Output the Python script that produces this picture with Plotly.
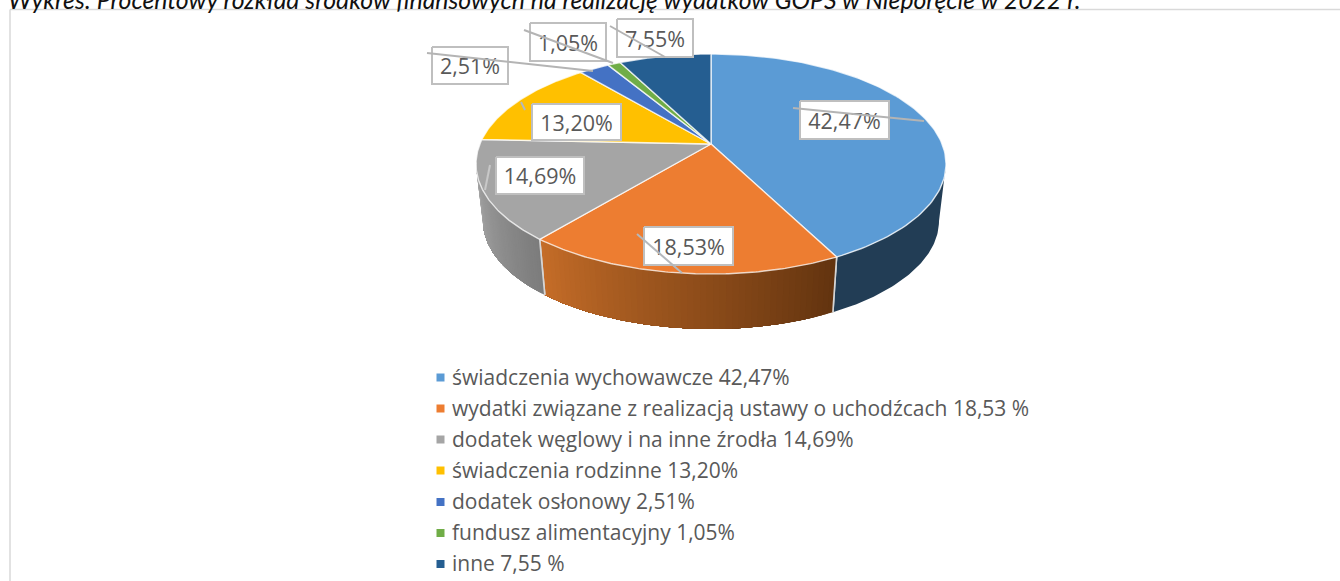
import numpy as np
import plotly.graph_objects as go

# ---- data ----
categories = ["świadczenia wychowawcze 42,47%",
              "wydatki związane z realizacją ustawy o uchodźcach 18,53 %",
              "dodatek węglowy i na inne źrodła 14,69%",
              "świadczenia rodzinne 13,20%",
              "dodatek osłonowy 2,51%",
              "fundusz alimentacyjny 1,05%",
              "inne 7,55 %"]
values = [42.47, 18.53, 14.69, 13.20, 2.51, 1.05, 7.55]
value_labels = ["42,47%", "18,53%", "14,69%", "13,20%", "2,51%", "1,05%", "7,55%"]
colors = ["#5B9BD5", "#ED7D31", "#A5A5A5", "#FFC000", "#4472C4", "#70AD47", "#255E91"]
title_text = "Wykres: Procentowy rozkład środków finansowych na realizację wydatków GOPS w Nieporęcie w 2022 r."

# ---- layout constants (pixels) ----
W, H = 1340, 581
CX, CY, RX, RY = 711.0, 164.0, 235.0, 110.0      # top ellipse
BCY, BRX, BRY = 221.0, 228.0, 108.0              # bottom ellipse
APEX_Y = 144.0
A = (APEX_Y - CY) / RY                           # perspective shift of the pie's centre
label_boxes = [(800, 889, 101, 139), (644, 733, 227, 265), (496, 584, 157, 194),
               (532, 621, 104, 140), (432, 508, 47, 84), (530, 606, 23, 61), (617, 693, 19, 57)]
leaders = [((793, 108), (924, 121), "#b4b4b4"), ((637, 234), (682, 273), "#b4b8bc"),
           ((490, 165), (485, 190), "#c8c8c8"), ((521, 102), (525, 110), "#b4b8bc"),
           ((427, 53), (593, 71), "#b4b4b4"), ((524, 30), (613, 63), "#b4b4b4"),
           ((610, 26), (665, 57), "#b4b4b4")]
legend_rows = [377.5, 408.5, 439.5, 470.5, 502, 533, 564]
wall_shades = {0: ("#223D55", "#223D55"), 1: ("#63340F", "#C46C28"), 2: ("#7C7C7C", "#A6A6A6")}


def norm(theta):
    u, v = np.sin(theta), -np.cos(theta)
    d = 1 + A * v
    return u * np.sqrt(1 - A * A) / d, (v + A) / d


def top(theta):
    u, v = norm(theta)
    return CX + RX * u, CY + RY * v


def bottom(theta):
    u, v = norm(theta)
    return CX + BRX * u, BCY + BRY * v


def mix(c1, c2, t):
    a = [int(c1[i:i + 2], 16) for i in (1, 3, 5)]
    b = [int(c2[i:i + 2], 16) for i in (1, 3, 5)]
    return "rgb(%d,%d,%d)" % tuple(round(a[i] + (b[i] - a[i]) * t) for i in range(3))


edges = np.concatenate([[0], np.cumsum(values)]) / np.sum(values) * 2 * np.pi
wall_lo = np.arccos(A)                 # where the front half of the rim starts
wall_hi = 2 * np.pi - wall_lo

fig = go.Figure()

# side walls: painted from one end to the other so that the shading has no seams
for i, c in enumerate(colors):
    lo, hi = max(edges[i], wall_lo), min(edges[i + 1], wall_hi)
    if hi <= lo:
        continue
    c_right, c_left = wall_shades[i]
    n = 1 if c_right == c_left else 50
    ts = np.linspace(lo, hi, 61) if n == 1 else np.linspace(lo, hi, n + 1)
    for j in range(n):
        sub = ts[j:]
        tx, ty = top(sub)
        bx, by = bottom(sub)
        col = mix(c_right, c_left, j / max(n - 1, 1))
        fig.add_trace(go.Scatter(x=list(tx) + list(bx[::-1]) + [tx[0]],
                                 y=list(ty) + list(by[::-1]) + [ty[0]],
                                 mode="lines", fill="toself", fillcolor=col,
                                 line=dict(color=col, width=0), hoverinfo="skip", showlegend=False))
    for th in (edges[i], edges[i + 1]):
        if wall_lo < th < wall_hi:
            tx, ty = top(th)
            bx, by = bottom(th)
            fig.add_trace(go.Scatter(x=[tx, bx], y=[ty, by], mode="lines",
                                     line=dict(color="#D5D5D5", width=1.6), hoverinfo="skip", showlegend=False))

# top faces
for i, c in enumerate(colors):
    ts = np.linspace(edges[i], edges[i + 1], 120)
    tx, ty = top(ts)
    fig.add_trace(go.Scatter(x=[CX] + list(tx) + [CX], y=[APEX_Y] + list(ty) + [APEX_Y],
                             mode="lines", fill="toself", fillcolor=c,
                             line=dict(color="rgba(255,255,255,0.75)", width=1.4),
                             name=categories[i], showlegend=False,
                             hovertemplate=categories[i] + "<extra></extra>"))

# label boxes
for (x0, x1, y0, y1) in label_boxes:
    fig.add_trace(go.Scatter(x=[x0, x1, x1, x0, x0], y=[y0, y0, y1, y1, y0], mode="lines",
                             fill="toself", fillcolor="#FFFFFF", line=dict(color="#BFBFBF", width=2),
                             hoverinfo="skip", showlegend=False))
# label text
fig.add_trace(go.Scatter(x=[(b[0] + b[1]) / 2 for b in label_boxes],
                         y=[(b[2] + b[3]) / 2 + 3.5 for b in label_boxes],
                         mode="text", text=value_labels, textposition="middle center",
                         textfont=dict(family="Open Sans", size=21.5, color="#595959"),
                         hoverinfo="skip", showlegend=False))
# leaders
for (p0, p1, col) in leaders:
    fig.add_trace(go.Scatter(x=[p0[0], p1[0]], y=[p0[1], p1[1]], mode="lines",
                             line=dict(color=col, width=2), hoverinfo="skip", showlegend=False))

# legend
fig.add_trace(go.Scatter(x=[440.5] * len(colors), y=legend_rows, mode="markers",
                         marker=dict(symbol="square", size=8, color=colors),
                         hoverinfo="skip", showlegend=False))
fig.add_trace(go.Scatter(x=[452] * len(colors), y=[r + 2 for r in legend_rows], mode="text", text=categories,
                         textposition="middle right",
                         textfont=dict(family="Open Sans", size=21, color="#595959"),
                         hoverinfo="skip", showlegend=False))

fig.update_layout(
    width=W, height=H, margin=dict(l=0, r=0, t=0, b=0),
    paper_bgcolor="white", plot_bgcolor="white",
    xaxis=dict(range=[0, W], visible=False, fixedrange=True),
    yaxis=dict(range=[H, 0], visible=False, fixedrange=True),
    title=dict(text=title_text, x=8 / W, xref="container", xanchor="left",
               y=1 - 8.5 / H, yref="container", yanchor="bottom",
               font=dict(family="Lato", size=24.8, color="#111111", style="italic")),
    shapes=[dict(type="line", xref="x", yref="y", x0=10, x1=W, y0=9.5, y1=9.5,
                 line=dict(color="#D9D9D9", width=1.5), layer="below"),
            dict(type="line", xref="x", yref="y", x0=10, x1=10, y0=9.5, y1=H,
                 line=dict(color="#D9D9D9", width=1.5), layer="below")],
)
fig.write_html("out.html", config={"displayModeBar": False},
               post_script="document.body.style.margin='0';document.documentElement.style.overflow='hidden';")
